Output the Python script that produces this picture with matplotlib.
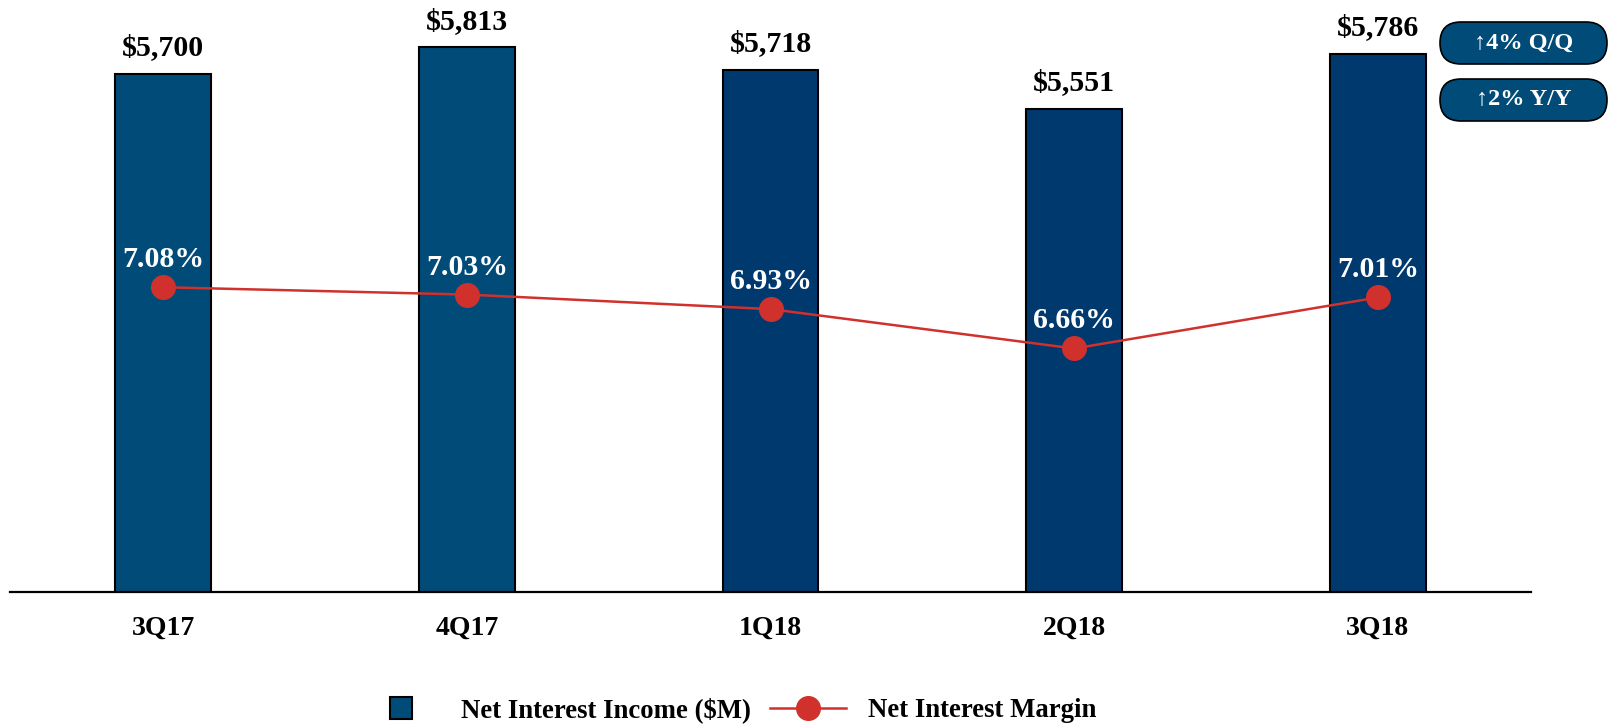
import matplotlib
matplotlib.use("Agg")
import matplotlib.pyplot as plt
from matplotlib.lines import Line2D
from matplotlib.patches import FancyBboxPatch
from matplotlib.transforms import IdentityTransform

quarters = ["3Q17", "4Q17", "1Q18", "2Q18", "3Q18"]
nii = [5700, 5813, 5718, 5551, 5786]
nim = [7.08, 7.03, 6.93, 6.66, 7.01]
badges = ["\u21914% Q/Q", "\u21912% Y/Y"]

bar_colors = ["#004B78", "#004B78", "#00396E", "#00396E", "#00396E"]
red = "#D0312D"
font = ["Liberation Serif", "DejaVu Serif"]
plt.rcParams["font.family"] = font
plt.rcParams["font.weight"] = "bold"

fig = plt.figure(figsize=(16.14, 7.27), dpi=100)
ax = fig.add_axes([10 / 1614, 135 / 727, 1521 / 1614, 592 / 727])

x = list(range(len(quarters)))
ax.bar(x, nii, width=0.316, color=bar_colors, edgecolor="black", linewidth=1.5, zorder=2)
ax.set_ylim(3500, 6014)
ax.set_xlim(-0.504, 4.504)
for xi, v in zip(x, nii):
    ax.annotate("${:,}".format(v), (xi, v), xytext=(0, 13.5), textcoords="offset points",
                ha="center", va="baseline", fontsize=21.5, fontweight="bold", annotation_clip=False)

for s in ["top", "left", "right"]:
    ax.spines[s].set_visible(False)
ax.spines["bottom"].set_linewidth(1.6)
ax.set_yticks([])
ax.set_xticks(x)
ax.set_xticklabels(quarters, fontsize=20, fontweight="bold")
ax.tick_params(axis="x", length=0, pad=17)

ax2 = ax.twinx()
ax2.plot(x, nim, color=red, linewidth=1.8, marker="o", markersize=17, zorder=3)
ax2.set_ylim(4.99, 9.05)
ax2.set_yticks([])
for s in ["top", "left", "right", "bottom"]:
    ax2.spines[s].set_visible(False)
for xi, v in zip(x, nim):
    ax2.annotate("{:.2f}%".format(v), (xi, v), xytext=(0, 14.4), textcoords="offset points",
                 ha="center", va="baseline", fontsize=21.5, fontweight="bold", color="white")

# Q/Q and Y/Y badges (pixel coordinates)
for i, txt in enumerate(badges):
    y0 = 663 - i * 57
    box = FancyBboxPatch((1440, y0), 167, 42, boxstyle="round,pad=0,rounding_size=21",
                         transform=IdentityTransform(), facecolor="#004B78",
                         edgecolor="black", linewidth=1.2)
    fig.patches.append(box)
    fig.text(1523.5 / 1614, (y0 + 21) / 727, txt, ha="center", va="center",
             fontsize=17.5, fontweight="bold", color="white", family=font)

handles = [
    Line2D([], [], linestyle="none", marker="s", markersize=16.5, markerfacecolor="#004B78",
           markeredgecolor="black", markeredgewidth=1.5),
    Line2D([], [], color=red, linewidth=1.8, marker="o", markersize=17),
]
fig.legend(handles, ["Net Interest Income ($M)", "Net Interest Margin"], loc="center",
           bbox_to_anchor=(0.452, 0.0234), ncol=2, frameon=False, handlelength=2.87,
           handletextpad=0.8, columnspacing=0.69, prop={"size": 19.3, "weight": "bold"})

fig.savefig("out.png", dpi=100)
